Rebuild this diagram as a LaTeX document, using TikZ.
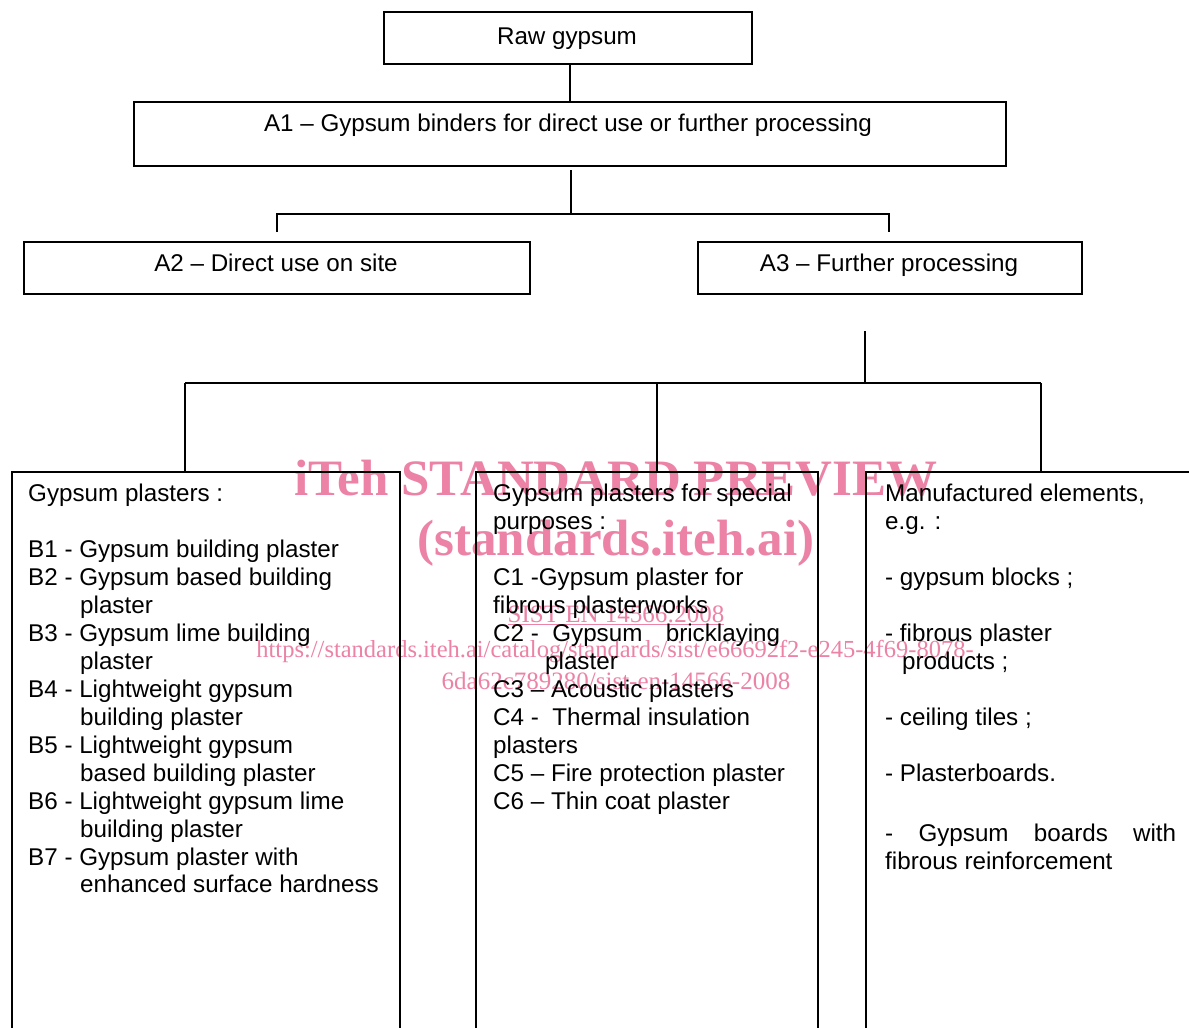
\documentclass[tikz,border=0pt]{standalone}
\usepackage{fontspec}
\setmainfont{Liberation Sans}
\newfontfamily\wmfont{Liberation Serif}
\definecolor{wmpink}{RGB}{236,130,165}
\begin{document}
\begin{tikzpicture}[x=1pt,y=-1pt,
  box/.style={draw, line width=1.8pt, inner sep=0pt, anchor=north west},
  lbox/.style={draw, line width=1.5pt, inner sep=0pt, anchor=north west},
  txt/.style={inner sep=0pt, anchor=base west, font=\fontsize{24.2}{28}\selectfont},
  ctxt/.style={inner sep=0pt, anchor=base, font=\fontsize{24.2}{28}\selectfont},
  wire/.style={line width=1.6pt},
  wmbig/.style={inner sep=0pt, anchor=base, text=wmpink, font=\wmfont\fontsize{51}{51}\selectfont\bfseries},
  wmsmall/.style={inner sep=0pt, anchor=base, text=wmpink, font=\wmfont\fontsize{25}{25}\selectfont},
]
\useasboundingbox (0,0) rectangle (1189,1028);
\clip (0,0) rectangle (1189,1028);
\fill[white] (0,0) rectangle (1189,1028);

% watermark
\node[wmbig] (wm1) at (616,495) {iTeh STANDARD PREVIEW};
\node[wmbig] (wm2) at (616,555) {(standards.iteh.ai)};
\node[wmsmall] (wm3) at (616,622) {\underline{SIST EN 14566:2008}};
\node[wmsmall, font=\wmfont\fontsize{24.5}{25}\selectfont] (wm4) at (615,657) {https://standards.iteh.ai/catalog/standards/sist/e66692f2-e245-4f69-8078-};
\node[wmsmall] (wm5) at (616,689) {6da62c789280/sist-en-14566-2008};

% top boxes
\node[box, minimum width=368pt, minimum height=52pt] (raw) at (383,11) {};
\node[ctxt] (rawt) at (567,44) {Raw gypsum};
\node[box, minimum width=872pt, minimum height=64pt] (a1) at (133,101) {};
\node[ctxt] (a1t) at (568,131) {A1 – Gypsum binders for direct use or further processing};
\node[box, minimum width=506pt, minimum height=52pt] (a2) at (23,241) {};
\node[ctxt] (a2t) at (276,271) {A2 – Direct use on site};
\node[box, minimum width=384pt, minimum height=52pt] (a3) at (697,241) {};
\node[ctxt] (a3t) at (889,271) {A3 – Further processing};

% connectors top
\draw[wire] (a1.north) -- (a1.north |- raw.south);
\coordinate (bar) at (571,214);
\coordinate (a1b) at ([yshift=-3pt]a1.south);
\draw[wire] (a1b -| bar) -- (bar);
\coordinate (tl) at (277,214);
\coordinate (tr) at (889,214);
\coordinate (tlb) at (277,232);
\coordinate (trb) at (889,232);
\draw[wire, line width=2pt] (tlb) -- (tl) -- (tr) -- (trb);

% lower boxes
\node[lbox, minimum width=388pt, minimum height=600pt] (bbox) at (11,471) {};
\node[lbox, minimum width=342pt, minimum height=600pt] (cbox) at (475,471) {};
\node[lbox, minimum width=345pt, minimum height=600pt] (dbox) at (865,471) {};

% connectors lower
\coordinate (v1) at (865,331);
\coordinate (v2) at (865,383);
\draw[wire] (v1) -- (v2);
\coordinate (hl) at (185,383);
\coordinate (hm) at (657,383);
\coordinate (hr) at (1041,383);
\draw[wire] (hl) -- (hr);
\draw[wire] (hl) -- (hl |- bbox.north);
\draw[wire] (hm) -- (hm |- cbox.north);
\draw[wire] (hr) -- (hr |- dbox.north);

% box B text
\node[txt] (b0) at (28,501) {Gypsum plasters :};
\node[txt] (b1) at (28,557) {B1 - Gypsum building plaster};
\node[txt] (b2) at (28,585) {B2 - Gypsum based building};
\node[txt] (b2b) at (80,613) {plaster};
\node[txt] (b3) at (28,641) {B3 - Gypsum lime building};
\node[txt] (b3b) at (80,669) {plaster};
\node[txt] (b4) at (28,697) {B4 - Lightweight gypsum};
\node[txt] (b4b) at (80,725) {building plaster};
\node[txt] (b5) at (28,753) {B5 - Lightweight gypsum};
\node[txt] (b5b) at (80,781) {based building plaster};
\node[txt] (b6) at (28,809) {B6 - Lightweight gypsum lime};
\node[txt] (b6b) at (80,837) {building plaster};
\node[txt] (b7) at (28,865) {B7 - Gypsum plaster with};
\node[txt] (b7b) at (80,892) {enhanced surface hardness};

% box C text
\node[txt] (c0) at (493,501) {Gypsum plasters for special};
\node[txt] (c0b) at (493,529) {purposes :};
\node[txt] (c1) at (493,585) {C1 -Gypsum plaster for};
\node[txt] (c1b) at (493,613) {fibrous plasterworks};
\node[txt] (c2) at (493,641) {\hbox to 287pt{C2 - \ Gypsum\hfill bricklaying}};
\node[txt] (c2b) at (545,669) {plaster};
\node[txt] (c3) at (493,697) {C3 – Acoustic plasters};
\node[txt] (c4) at (493,725) {C4 - \ Thermal insulation};
\node[txt] (c4b) at (493,753) {plasters};
\node[txt] (c5) at (493,781) {C5 – Fire protection plaster};
\node[txt] (c6) at (493,809) {C6 – Thin coat plaster};

% box D text
\node[txt] (d0) at (885,501) {Manufactured elements,};
\node[txt] (d0b) at (885,529) {e.g. :};
\node[txt] (d1) at (885,585) {- gypsum blocks ;};
\node[txt] (d2) at (885,641) {- fibrous plaster};
\node[txt] (d2b) at (902,669) {products ;};
\node[txt] (d3) at (885,725) {- ceiling tiles ;};
\node[txt] (d4) at (885,781) {- Plasterboards.};
\node[txt] (d5) at (885,841) {\hbox to 291pt{-\hfill Gypsum\hfill boards\hfill with}};
\node[txt] (d5b) at (885,869) {fibrous reinforcement};
\end{tikzpicture}
\end{document}
